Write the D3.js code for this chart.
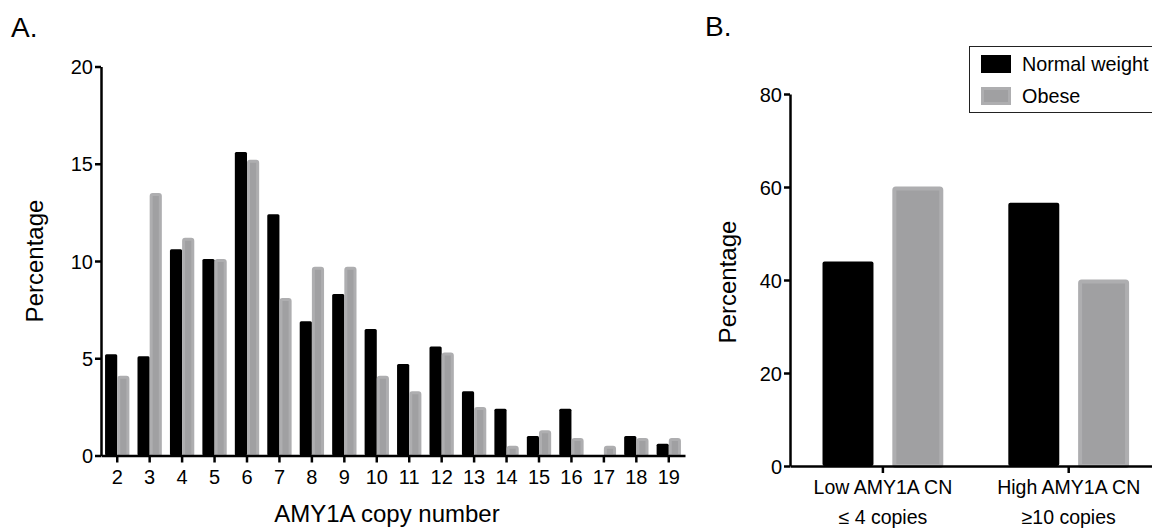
<!DOCTYPE html>
<html>
<head>
<meta charset="utf-8">
<script src="https://cdn.jsdelivr.net/npm/d3@7"></script>
<style>
  html, body { margin: 0; padding: 0; background: #fff; }
  svg { display: block; font-family: "Liberation Sans", Arial, sans-serif; }
</style>
</head>
<body>
<svg id="chart" width="1152" height="529"></svg>
<script>
// ---------- data ----------
const copyNumbers = [2,3,4,5,6,7,8,9,10,11,12,13,14,15,16,17,18,19];
const normalA = [5.2,5.1,10.6,10.1,15.6,12.4,6.9,8.3,6.5,4.7,5.6,3.3,2.4,1.0,2.4,0,1.0,0.6];
const obeseA  = [4.1,13.5,11.2,10.1,15.2,8.1,9.7,9.7,4.1,3.3,5.3,2.5,0.5,1.3,0.9,0.5,0.9,0.9];
const yTicksA = [0,5,10,15,20];

const groupsB = ["Low AMY1A CN", "High AMY1A CN"];
const subLabelsB = ["\u2264 4 copies", "\u226510 copies"];
const normalB = [44.0, 56.6];
const obeseB  = [60.1, 40.1];
const yTicksB = [0,20,40,60,80];
const seriesNames = ["Normal weight", "Obese"];

const BLACK = "#000";
const GREY_FILL = "#a0a0a2";
const GREY_EDGE = "#aeaeb0";
const TICK_FONT = 20;

const svg = d3.select("#chart");

// ---------- Panel A ----------
const A = { left: 101, right: 685, top: 66.5, bottom: 455.5 };
const xA = d3.scaleBand().domain(copyNumbers).range([A.left, A.right]).paddingInner(0.25).paddingOuter(0.125);
const subA = d3.scaleBand().domain([0,1]).range([0, xA.bandwidth()]);
const yA = d3.scaleLinear().domain([0,20]).range([A.bottom, A.top]);

const gA = svg.append("g");

copyNumbers.forEach((c, i) => {
  const x0 = xA(c);
  gA.append("rect")
    .attr("x", x0 + subA(0)).attr("y", yA(normalA[i]))
    .attr("width", subA.bandwidth()).attr("height", Math.max(0, yA(0) - yA(normalA[i])))
    .attr("rx", 1.5).attr("fill", BLACK);
  const h = yA(0) - yA(obeseA[i]);
  gA.append("rect")
    .attr("x", x0 + subA(1) + 1.5).attr("y", yA(obeseA[i]) + 1.5)
    .attr("width", subA.bandwidth() - 3).attr("height", Math.max(0, h - 1.5))
    .attr("rx", 1.5)
    .attr("fill", GREY_FILL).attr("stroke", GREY_EDGE).attr("stroke-width", 3);
});

const yAxisA = d3.axisLeft(yA).tickValues(yTicksA).tickSize(6).tickSizeOuter(0);
const gyA = gA.append("g").attr("transform", `translate(${A.left},0)`).call(yAxisA);
const xAxisA = d3.axisBottom(xA).tickSize(7).tickSizeOuter(0);
const gxA = gA.append("g").attr("transform", `translate(0,${A.bottom})`).call(xAxisA);
[gyA, gxA].forEach(g => {
  g.select(".domain").attr("stroke", "#000").attr("stroke-width", 2.5);
  g.selectAll(".tick line").attr("stroke", "#000").attr("stroke-width", 2.5);
  g.selectAll(".tick text").attr("fill", "#000").attr("font-size", TICK_FONT).attr("font-family", "Liberation Sans, Arial, sans-serif");
});
gyA.selectAll(".tick text").attr("x", -8).attr("dy", "0.36em");
gxA.selectAll(".tick text").attr("y", 14.5).attr("dy", "0.71em");

gA.append("text").attr("x", 11).attr("y", 37).attr("font-size", 28).text("A.");
gA.append("text").attr("transform", `translate(43,${(A.top + A.bottom) / 2}) rotate(-90)`)
  .attr("text-anchor", "middle").attr("font-size", 24).text("Percentage");
gA.append("text").attr("x", 387).attr("y", 522)
  .attr("text-anchor", "middle").attr("font-size", 24).text("AMY1A copy number");

// ---------- Panel B ----------
const B = { left: 790, top: 94, bottom: 466 };
const stepB = 185.8;
const xB = d3.scaleBand().domain(groupsB).range([B.left, B.left + stepB * groupsB.length]).paddingInner(0.35).paddingOuter(0.175);
const subB = d3.scaleBand().domain([0,1]).range([0, xB.bandwidth()]).paddingInner(0.27);
const yB = d3.scaleLinear().domain([0,80]).range([B.bottom, B.top]);

const gB = svg.append("g");

groupsB.forEach((grp, i) => {
  const x0 = xB(grp);
  gB.append("rect")
    .attr("x", x0 + subB(0)).attr("y", yB(normalB[i]))
    .attr("width", subB.bandwidth()).attr("height", yB(0) - yB(normalB[i]))
    .attr("rx", 2).attr("fill", BLACK);
  gB.append("rect")
    .attr("x", x0 + subB(1) + 2).attr("y", yB(obeseB[i]) + 2)
    .attr("width", subB.bandwidth() - 4).attr("height", yB(0) - yB(obeseB[i]) - 2)
    .attr("rx", 1.5)
    .attr("fill", GREY_FILL).attr("stroke", GREY_EDGE).attr("stroke-width", 4);
});

const yAxisB = d3.axisLeft(yB).tickValues(yTicksB).tickSize(6).tickSizeOuter(0);
const gyB = gB.append("g").attr("transform", `translate(${B.left},0)`).call(yAxisB);
const xAxisB = d3.axisBottom(xB).tickSize(7).tickSizeOuter(0);
const gxB = gB.append("g").attr("transform", `translate(0,${B.bottom})`).call(xAxisB);
[gyB, gxB].forEach(g => {
  g.select(".domain").attr("stroke", "#000").attr("stroke-width", 2.5);
  g.selectAll(".tick line").attr("stroke", "#000").attr("stroke-width", 2.5);
  g.selectAll(".tick text").attr("fill", "#000").attr("font-family", "Liberation Sans, Arial, sans-serif");
});
gyB.selectAll(".tick text").attr("x", -8).attr("dy", "0.36em").attr("font-size", TICK_FONT);
gxB.selectAll(".tick text").attr("y", 14).attr("dy", "0.71em").attr("font-size", 19.5);
groupsB.forEach((grp, i) => {
  gB.append("text").attr("x", xB(grp) + xB.bandwidth() / 2).attr("y", 524)
    .attr("text-anchor", "middle").attr("font-size", 19.5).text(subLabelsB[i]);
});

gB.append("text").attr("x", 705).attr("y", 36).attr("font-size", 28).text("B.");
gB.append("text").attr("transform", `translate(736,${(B.top + B.bottom) / 2 + 2}) rotate(-90)`)
  .attr("text-anchor", "middle").attr("font-size", 24).text("Percentage");

// legend
const lg = gB.append("g");
lg.append("rect").attr("x", 969.5).attr("y", 46.5).attr("width", 200).attr("height", 66)
  .attr("fill", "#fff").attr("stroke", "#222").attr("stroke-width", 1);
lg.append("rect").attr("x", 981).attr("y", 55).attr("width", 30).attr("height", 18).attr("fill", BLACK);
lg.append("rect").attr("x", 982.5).attr("y", 88.5).attr("width", 27).attr("height", 15)
  .attr("fill", GREY_FILL).attr("stroke", GREY_EDGE).attr("stroke-width", 3);
seriesNames.forEach((s, i) => {
  lg.append("text").attr("x", 1022).attr("y", 64 + i * 32).attr("dy", "0.36em")
    .attr("font-size", 19.8).text(s);
});
</script>
</body>
</html>
